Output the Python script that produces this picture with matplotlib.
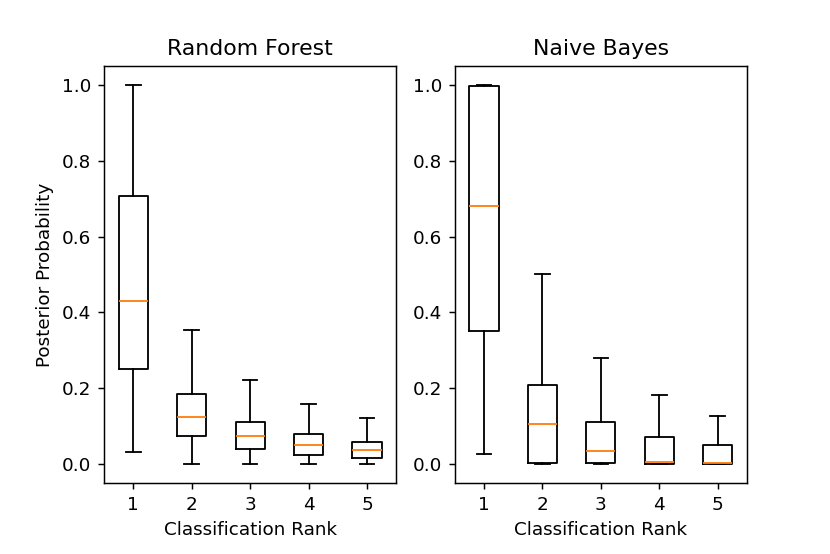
import matplotlib
matplotlib.use("Agg")
import matplotlib.pyplot as plt

ranks = ["1", "2", "3", "4", "5"]

# Random Forest box statistics per classification rank
rf_whislo = [0.032, 0.0, 0.0, 0.0, 0.0]
rf_q1 = [0.250, 0.074, 0.040, 0.025, 0.017]
rf_med = [0.429, 0.125, 0.075, 0.051, 0.038]
rf_q3 = [0.706, 0.184, 0.112, 0.079, 0.059]
rf_whishi = [1.0, 0.354, 0.221, 0.158, 0.122]

# Naive Bayes box statistics per classification rank
nb_whislo = [0.027, 0.0, 0.0, 0.0, 0.0]
nb_q1 = [0.351, 0.002, 0.002, 0.001, 0.001]
nb_med = [0.680, 0.106, 0.034, 0.006, 0.002]
nb_q3 = [0.998, 0.208, 0.112, 0.072, 0.050]
nb_whishi = [1.0, 0.501, 0.280, 0.182, 0.126]

titles = ["Random Forest", "Naive Bayes"]


def make_stats(lo, q1, med, q3, hi):
    return [dict(label=r, whislo=a, q1=b, med=c, q3=d, whishi=e, fliers=[])
            for r, a, b, c, d, e in zip(ranks, lo, q1, med, q3, hi)]


DPI = 132
fig, axes = plt.subplots(1, 2, figsize=(830 / DPI, 554 / DPI), dpi=DPI)
fig.subplots_adjust(left=0.1253, right=0.9, top=0.881, bottom=0.128, wspace=0.2)

datasets = [
    make_stats(rf_whislo, rf_q1, rf_med, rf_q3, rf_whishi),
    make_stats(nb_whislo, nb_q1, nb_med, nb_q3, nb_whishi),
]

for ax, stats, title in zip(axes, datasets, titles):
    ax.bxp(stats, showfliers=False)
    ax.set_title(title)
    ax.set_xlabel("Classification Rank")
    ax.set_yticks([0.0, 0.2, 0.4, 0.6, 0.8, 1.0])

axes[0].set_ylabel("Posterior Probability")

fig.savefig("out.png", dpi=DPI)
